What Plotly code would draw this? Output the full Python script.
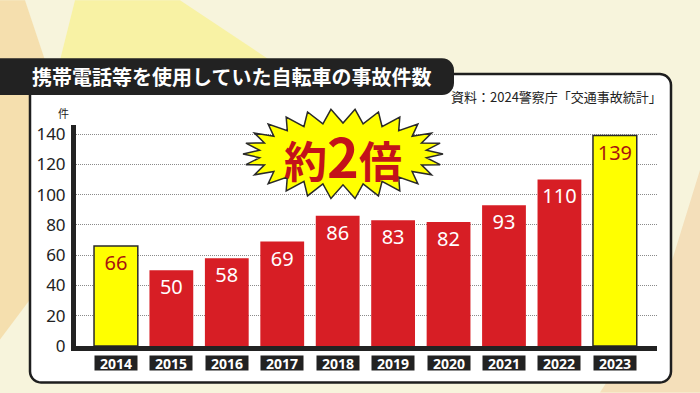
import numpy as np
import plotly.graph_objects as go

years = ["2014", "2015", "2016", "2017", "2018", "2019", "2020", "2021", "2022", "2023"]
counts = [66, 50, 58, 69, 86, 83, 82, 93, 110, 139]
highlight = [True, False, False, False, False, False, False, False, False, True]
y_ticks = [0, 20, 40, 60, 80, 100, 120, 140]
title_text = "携帯電話等を使用していた自転車の事故件数"
source_text = "資料：2024警察庁「交通事故統計」"
burst_text = "約2倍"
unit_text = "件"

W, H = 700, 393
L, R_, T, B = 76, 657, 125, 346.5  # plot area in pixels
PW, PH = R_ - L, B - T


def px(x):
    return (x - L) / PW


def py(y):
    return (B - y) / PH


def path_from_pixels(points, close=True):
    s = "M " + " L ".join(f"{px(x):.5f},{py(y):.5f}" for x, y in points)
    return s + (" Z" if close else "")


def rounded_rect(x0, y0, x1, y1, r, corners=(True, True, True, True)):
    pts = []
    def arc(cx, cy, a0, a1):
        for a in np.linspace(a0, a1, 8):
            pts.append((cx + r * np.cos(a), cy + r * np.sin(a)))
    tl, tr, br, bl = corners
    if tl:
        arc(x0 + r, y0 + r, np.pi, 1.5 * np.pi)
    else:
        pts.append((x0, y0))
    if tr:
        arc(x1 - r, y0 + r, 1.5 * np.pi, 2 * np.pi)
    else:
        pts.append((x1, y0))
    if br:
        arc(x1 - r, y1 - r, 0, 0.5 * np.pi)
    else:
        pts.append((x1, y1))
    if bl:
        arc(x0 + r, y1 - r, 0.5 * np.pi, np.pi)
    else:
        pts.append((x0, y1))
    return path_from_pixels(pts)


bar_colors = ["#FFFF00" if h else "#D71E25" for h in highlight]
line_colors = ["#2a2a2a" if h else "#D71E25" for h in highlight]
line_widths = [1.5 if h else 0 for h in highlight]
text_colors = ["#A8120F" if h else "#FFFFFF" for h in highlight]

fig = go.Figure()
fig.add_trace(go.Bar(
    x=list(range(len(years))), y=counts,
    width=0.79,
    marker=dict(color=bar_colors, line=dict(color=line_colors, width=line_widths)),
    texttemplate="%{y}",
    textposition="inside",
    insidetextanchor="end",
    textangle=0,
    textfont=dict(color=text_colors, size=20, family="Noto Sans"),
    hoverinfo="skip",
))

shapes = []
shapes.append(dict(type="path", xref="paper", yref="paper", layer="below",
                   path=path_from_pixels([(0, 0), (25, 0), (45, 60), (30, 300), (0, 340)]),
                   fillcolor="#F4D9A2", line=dict(width=0), opacity=0.8))
shapes.append(dict(type="path", xref="paper", yref="paper", layer="below",
                   path=path_from_pixels([(75, 0), (180, 0), (270, 60), (60, 60)]),
                   fillcolor="#F8F196", line=dict(width=0), opacity=0.8))
shapes.append(dict(type="path", xref="paper", yref="paper", layer="below",
                   path=path_from_pixels([(700, 170), (700, 393), (600, 393), (660, 300)]),
                   fillcolor="#F3DDB6", line=dict(width=0), opacity=0.9))
shapes.append(dict(type="path", xref="paper", yref="paper", layer="below",
                   path=rounded_rect(30, 74, 671, 383, 11),
                   fillcolor="#FFFFFF", line=dict(color="#1e1e1e", width=2.5)))
shapes.append(dict(type="path", xref="paper", yref="paper", layer="above",
                   path=rounded_rect(-20, 58, 454, 95, 12, corners=(False, True, True, False)),
                   fillcolor="#222222", line=dict(width=0)))
cx, cy = 343, 154
n = 26
ang = np.linspace(0, 2 * np.pi, 2 * n, endpoint=False)
rxo, ryo, rxi, ryi = 100, 45, 84, 31
pts = []
for i, a in enumerate(ang):
    rx, ry = (rxo, ryo) if i % 2 == 0 else (rxi, ryi)
    pts.append((cx + rx * np.cos(a), cy + ry * np.sin(a)))
shapes.append(dict(type="path", xref="paper", yref="paper", layer="above",
                   path=path_from_pixels(pts),
                   fillcolor="#FFFF00", line=dict(color="#2a2a2a", width=1.5)))

annotations = []
for i, yr in enumerate(years):
    annotations.append(dict(x=i, y=py(364), xref="x", yref="paper", text=f"<b>{yr}</b>",
                            showarrow=False, bgcolor="#222222", width=42, height=14,
                            font=dict(color="white", size=14, family="Noto Sans"),
                            xanchor="center", yanchor="middle", borderpad=0))
annotations.append(dict(x=px(30), y=py(76.5), xref="paper", yref="paper", text=f"<b>{title_text}</b>",
                        showarrow=False, xanchor="left", yanchor="middle",
                        font=dict(color="white", size=20, family="Noto Sans CJK JP")))
annotations.append(dict(x=px(664), y=py(96), xref="paper", yref="paper", text=source_text,
                        showarrow=False, xanchor="right", yanchor="middle",
                        font=dict(color="#222222", size=13, family="Noto Sans CJK JP")))
annotations.append(dict(x=px(63), y=py(113), xref="paper", yref="paper", text=unit_text,
                        showarrow=False, xanchor="center", yanchor="middle",
                        font=dict(color="#222222", size=11, family="Noto Sans CJK JP")))
annotations.append(dict(x=px(cx), y=py(cy + 1), xref="paper", yref="paper",
                        text=f"<b>{burst_text[0]}</b><b><span style='font-size:54px'>{burst_text[1]}</span></b><b>{burst_text[2]}</b>",
                        showarrow=False, xanchor="center", yanchor="middle",
                        font=dict(color="#C3121A", size=43, family="Noto Sans CJK JP")))

fig.update_layout(
    width=W, height=H,
    margin=dict(l=L, r=W - R_, t=T, b=H - B, pad=0),
    paper_bgcolor="#F7F4DC",
    plot_bgcolor="rgba(0,0,0,0)",
    showlegend=False,
    shapes=shapes,
    annotations=annotations,
    xaxis=dict(range=[-0.72, 9.76], showticklabels=False, showgrid=False,
               showline=True, linecolor="#222222", linewidth=5, ticks="", zeroline=False, fixedrange=True),
    yaxis=dict(range=[0, 146], tickvals=y_ticks, showgrid=True, gridcolor="#8a8a8a", gridwidth=1,
               griddash="1px,1px", showline=True, linecolor="#222222", linewidth=5, ticks="",
               zeroline=False, tickfont=dict(size=17, color="#222222", family="Noto Sans"),
               ticklabelstandoff=2, fixedrange=True),
)

fig.write_html("out.html", config={"displayModeBar": False},
               post_script="document.body.style.margin='0';document.body.style.overflow='hidden';")
